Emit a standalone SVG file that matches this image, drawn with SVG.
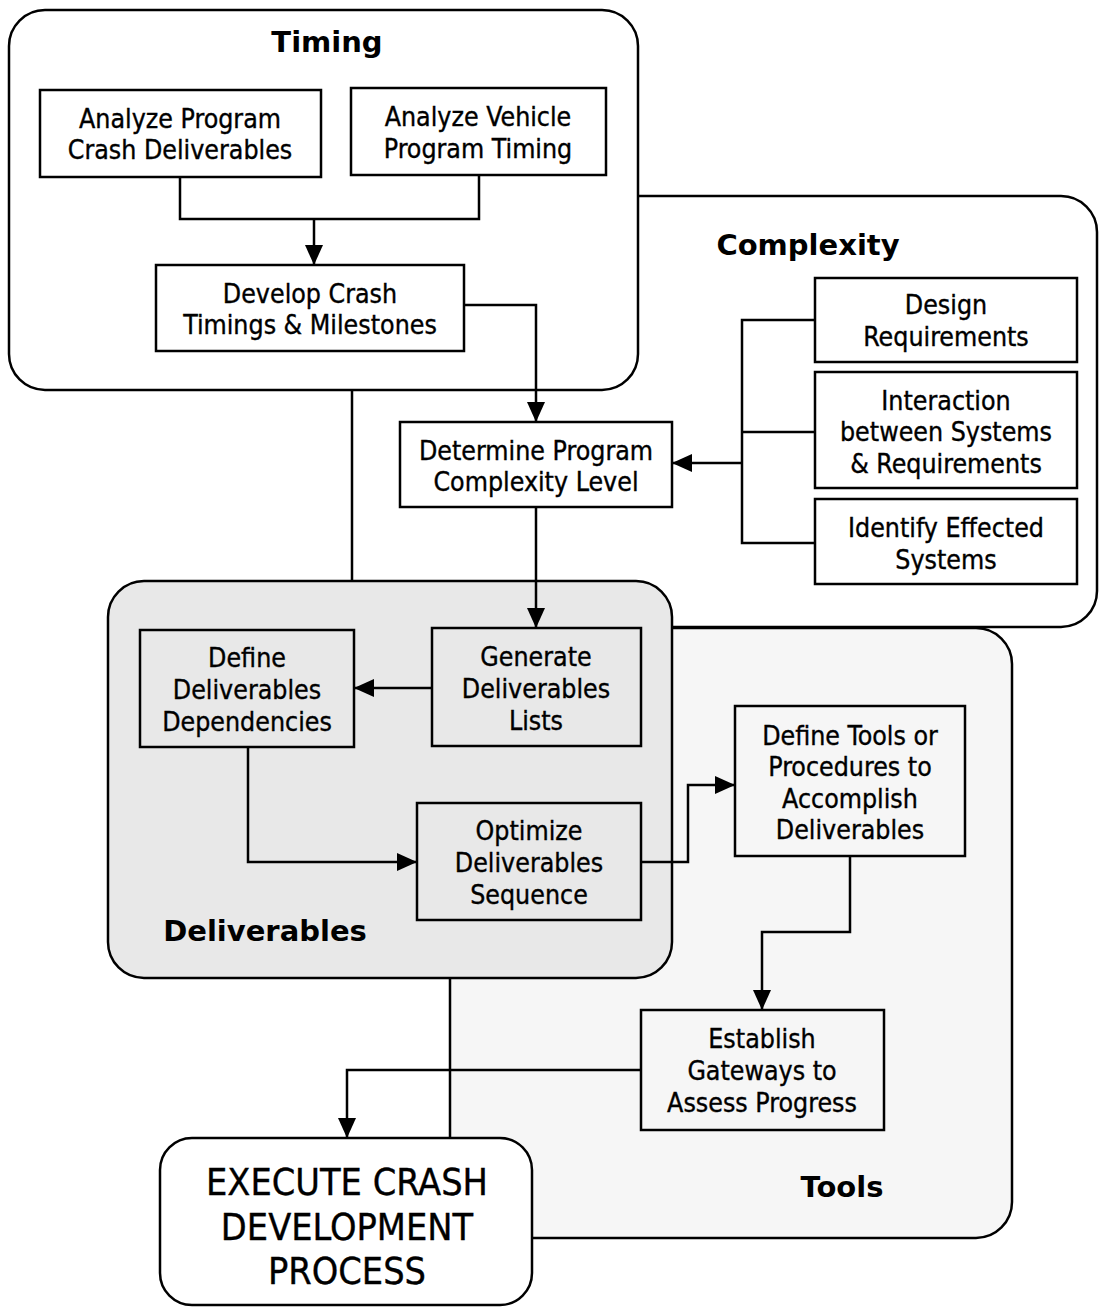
<svg xmlns="http://www.w3.org/2000/svg" width="1099" height="1308" viewBox="0 0 1099 1308">
  <style>
    .panel { stroke: #000; stroke-width: 2.5; }
    .box { fill: #fff; stroke: #000; stroke-width: 2.5; }
    .box-clear { fill: none; stroke: #000; stroke-width: 2.5; }
    .label { font-family: "DejaVu Sans Condensed", "DejaVu Sans", sans-serif; font-size: 26.5px; fill: #000; stroke: #000; stroke-width: 0.35; text-anchor: middle; }
    .title { font-family: "DejaVu Sans", "Liberation Sans", sans-serif; font-size: 29px; font-weight: bold; fill: #000; text-anchor: middle; }
    .big { font-family: "DejaVu Sans Condensed", "DejaVu Sans", sans-serif; font-size: 37.5px; fill: #000; stroke: #000; stroke-width: 0.35; text-anchor: middle; }
    .wire { fill: none; stroke: #000; stroke-width: 2.5; }
  </style>
  <defs>
    <marker id="head" markerUnits="userSpaceOnUse" markerWidth="22" markerHeight="18" refX="20" refY="9" orient="auto">
      <path d="M0,0 L20,9 L0,18 Z" fill="#000"/>
    </marker>
  </defs>

  <rect width="1099" height="1308" fill="#fff"/>

  <!-- Complexity panel (behind Timing) -->
  <g id="complexity">
    <rect class="panel" x="352" y="196" width="745" height="431" rx="36" fill="#fff"/>
    <text class="title" x="808" y="255">Complexity</text>
  </g>

  <!-- Timing panel -->
  <g id="timing">
    <rect class="panel" x="9" y="10" width="629" height="380" rx="36" fill="#fff"/>
    <text class="title" x="327" y="52">Timing</text>
  </g>

  <!-- Tools panel (behind Deliverables) -->
  <g id="tools">
    <rect class="panel" x="450" y="628" width="562" height="610" rx="36" fill="#f6f6f6"/>
    <text class="title" x="842" y="1197">Tools</text>
  </g>

  <!-- Deliverables panel -->
  <g id="deliverables">
    <rect class="panel" x="108" y="581" width="564" height="397" rx="36" fill="#e8e8e8"/>
    <text class="title" x="265" y="941">Deliverables</text>
  </g>

  <!-- Execute terminal -->
  <g id="execute">
    <rect class="panel" x="160" y="1138" width="372" height="167" rx="32" fill="#fff"/>
    <text class="big" x="347" y="1195">EXECUTE CRASH</text>
    <text class="big" x="347" y="1240">DEVELOPMENT</text>
    <text class="big" x="347" y="1284">PROCESS</text>
  </g>

  <!-- Connectors -->
  <g id="connectors">
    <path class="wire" d="M180,177 V219 H479 V175"/>
    <path class="wire" d="M314,219 V265" marker-end="url(#head)"/>
    <path class="wire" d="M464,305 H536 V422" marker-end="url(#head)"/>
    <path class="wire" d="M815,320 H742 V543 H815 M742,432 H815"/>
    <path class="wire" d="M742,463 H672" marker-end="url(#head)"/>
    <path class="wire" d="M536,507 V628" marker-end="url(#head)"/>
    <path class="wire" d="M432,688 H354" marker-end="url(#head)"/>
    <path class="wire" d="M248,747 V862 H417" marker-end="url(#head)"/>
    <path class="wire" d="M641,862 H688 V785 H735" marker-end="url(#head)"/>
    <path class="wire" d="M850,856 V932 H762 V1010" marker-end="url(#head)"/>
    <path class="wire" d="M641,1070 H347 V1138" marker-end="url(#head)"/>
  </g>

  <!-- Timing steps -->
  <g id="analyze-deliverables">
    <rect class="box" x="40" y="90" width="281" height="87"/>
    <text class="label" x="180" y="128">Analyze Program</text>
    <text class="label" x="180" y="159">Crash Deliverables</text>
  </g>
  <g id="analyze-timing">
    <rect class="box" x="351" y="88" width="255" height="87"/>
    <text class="label" x="478" y="126">Analyze Vehicle</text>
    <text class="label" x="478" y="158">Program Timing</text>
  </g>
  <g id="develop-timings">
    <rect class="box" x="156" y="265" width="308" height="86"/>
    <text class="label" x="310" y="303">Develop Crash</text>
    <text class="label" x="310" y="334">Timings &amp; Milestones</text>
  </g>

  <!-- Complexity steps -->
  <g id="determine-complexity">
    <rect class="box" x="400" y="422" width="272" height="85"/>
    <text class="label" x="536" y="460">Determine Program</text>
    <text class="label" x="536" y="491">Complexity Level</text>
  </g>
  <g id="design-requirements">
    <rect class="box" x="815" y="278" width="262" height="84"/>
    <text class="label" x="946" y="314">Design</text>
    <text class="label" x="946" y="346">Requirements</text>
  </g>
  <g id="interaction">
    <rect class="box" x="815" y="372" width="262" height="116"/>
    <text class="label" x="946" y="410">Interaction</text>
    <text class="label" x="946" y="441">between Systems</text>
    <text class="label" x="946" y="473">&amp; Requirements</text>
  </g>
  <g id="effected-systems">
    <rect class="box" x="815" y="499" width="262" height="85"/>
    <text class="label" x="946" y="537">Identify Effected</text>
    <text class="label" x="946" y="569">Systems</text>
  </g>

  <!-- Deliverables steps -->
  <g id="define-dependencies">
    <rect class="box-clear" x="140" y="630" width="214" height="117"/>
    <text class="label" x="247" y="667">Define</text>
    <text class="label" x="247" y="699">Deliverables</text>
    <text class="label" x="247" y="731">Dependencies</text>
  </g>
  <g id="generate-lists">
    <rect class="box-clear" x="432" y="628" width="209" height="118"/>
    <text class="label" x="536" y="666">Generate</text>
    <text class="label" x="536" y="698">Deliverables</text>
    <text class="label" x="536" y="730">Lists</text>
  </g>
  <g id="optimize-sequence">
    <rect class="box-clear" x="417" y="803" width="224" height="117"/>
    <text class="label" x="529" y="840">Optimize</text>
    <text class="label" x="529" y="872">Deliverables</text>
    <text class="label" x="529" y="904">Sequence</text>
  </g>

  <!-- Tools steps -->
  <g id="define-tools">
    <rect class="box-clear" x="735" y="706" width="230" height="150"/>
    <text class="label" x="850" y="745">Define Tools or</text>
    <text class="label" x="850" y="776">Procedures to</text>
    <text class="label" x="850" y="808">Accomplish</text>
    <text class="label" x="850" y="839">Deliverables</text>
  </g>
  <g id="establish-gateways">
    <rect class="box-clear" x="641" y="1010" width="243" height="120"/>
    <text class="label" x="762" y="1048">Establish</text>
    <text class="label" x="762" y="1080">Gateways to</text>
    <text class="label" x="762" y="1112">Assess Progress</text>
  </g>
</svg>
